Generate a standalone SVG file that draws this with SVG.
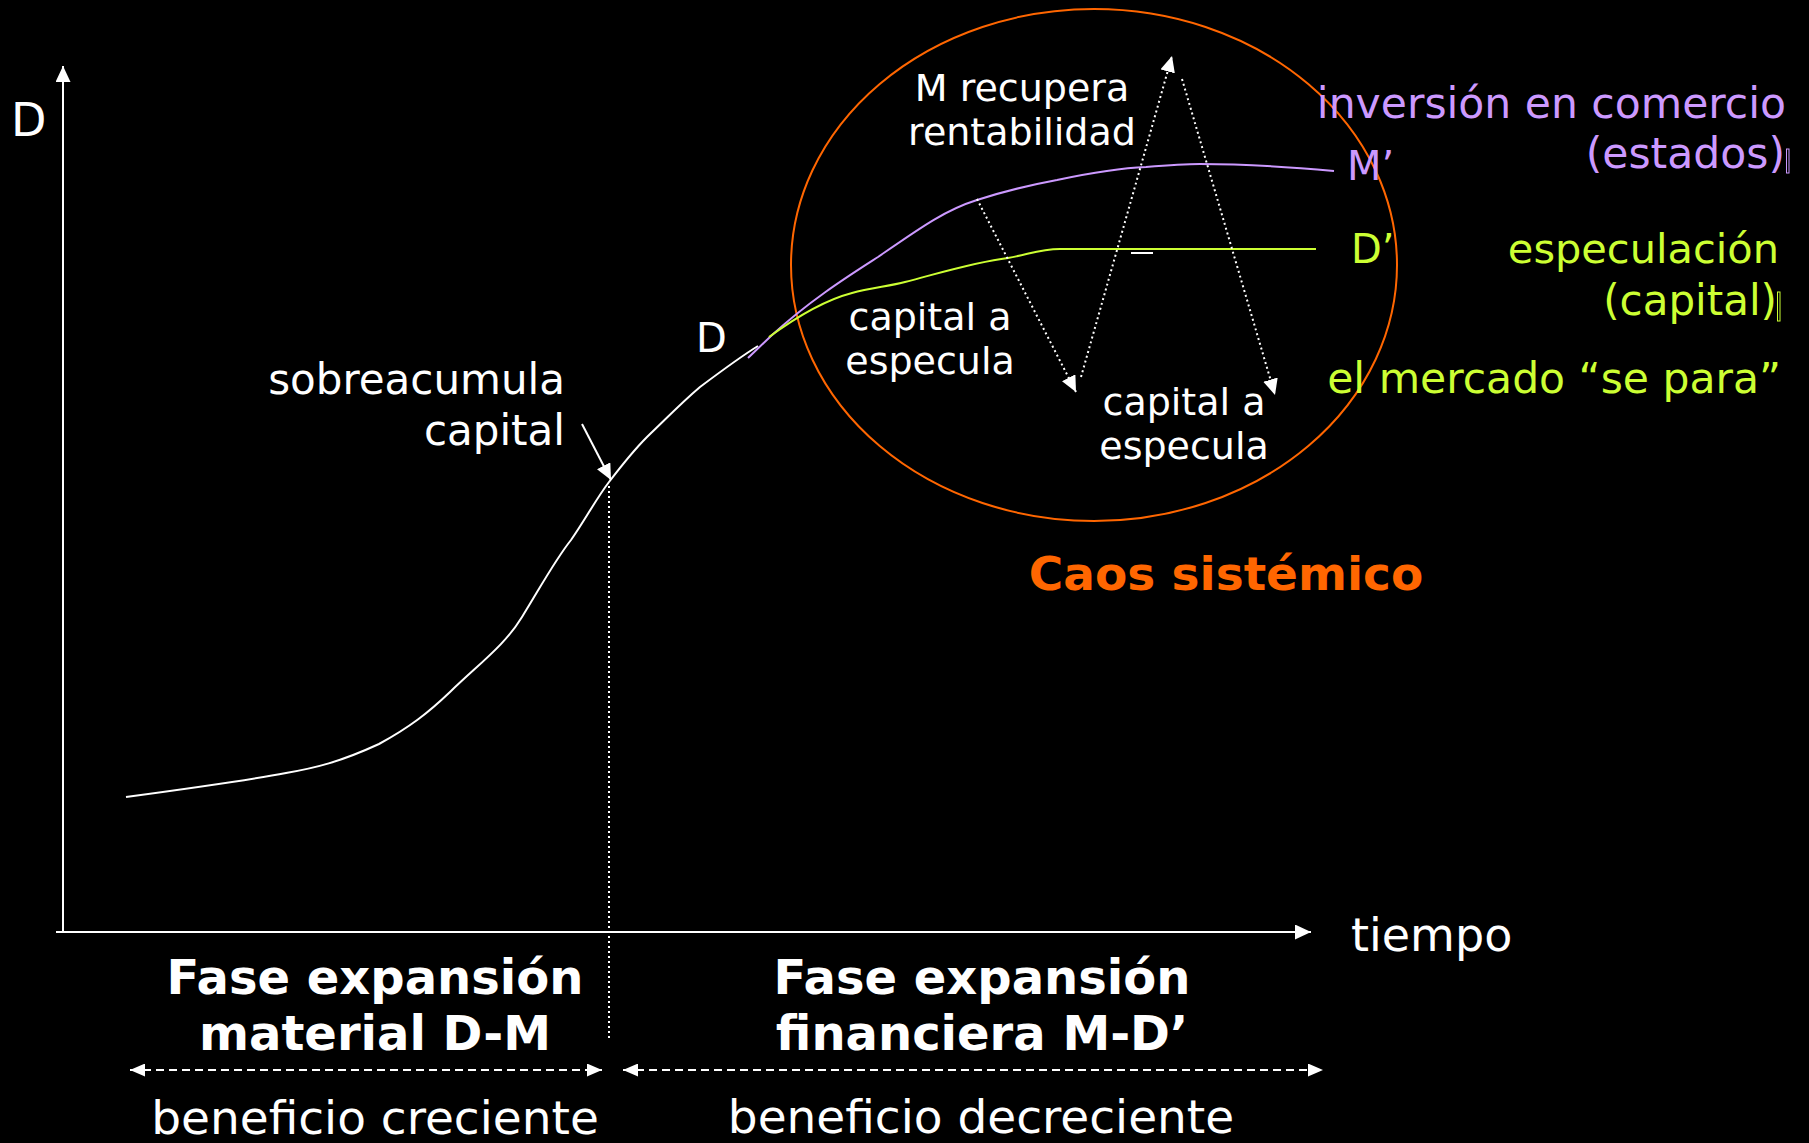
<svg xmlns="http://www.w3.org/2000/svg" width="1809" height="1143" viewBox="0 0 1809 1143">
<style>
text{font-family:"DejaVu Sans","Liberation Sans",sans-serif;}
.w{fill:#ffffff;}
.p{fill:#CC99FF;}
.g{fill:#CCFF33;}
.o{fill:#FF6600;}
.b{font-weight:bold;}
.ln{fill:none;stroke:#ffffff;stroke-width:2;}
.dot{fill:none;stroke:#ffffff;stroke-width:2;stroke-dasharray:2 3;}
.dash{fill:none;stroke:#ffffff;stroke-width:2;stroke-dasharray:8 5;}
</style>
<defs>
<marker id="ah" viewBox="0 0 16 15" refX="16" refY="7.5" markerWidth="16" markerHeight="15" markerUnits="userSpaceOnUse" orient="auto-start-reverse">
<path d="M0,0 L16,7.5 L0,15 z" fill="#ffffff"/>
</marker>
<marker id="ahs" viewBox="0 0 15 13" refX="15" refY="6.5" markerWidth="15" markerHeight="13" markerUnits="userSpaceOnUse" orient="auto-start-reverse">
<path d="M0,0 L15,6.5 L0,13 z" fill="#ffffff"/>
</marker>
</defs>
<rect x="0" y="0" width="1809" height="1143" fill="#000000"/>

<g id="circle">
<ellipse cx="1094" cy="265" rx="303" ry="256" fill="none" stroke="#FF6600" stroke-width="2"/>
</g>

<g id="curves">
<path id="curve-main" class="ln" d="M126,797 C200,787 255,779 286,773 C315,768 340,762 379,744 C410,727 428,713 450,692 C480,663 505,645 522,617 C540,588 555,560 571,540 C585,520 596,499 609,482 C622,465 632,452 647,437 C665,420 680,404 700,387 C720,372 740,357 758,346"/>
<path id="curve-M" fill="none" stroke="#CC99FF" stroke-width="2" d="M748,358 L771,336 C810,300 850,275 878,257 C920,228 945,210 977,200 C1005,191 1030,185 1057,180 C1090,173 1120,168 1146,167 C1170,165 1185,164 1200,164 C1250,164 1300,168 1334,171"/>
<path id="curve-D" fill="none" stroke="#CCFF33" stroke-width="2" d="M769,337 C795,318 825,300 852,293 C870,288 890,286 905,282 C940,273 975,262 1008,258 C1030,254 1040,249 1060,249 L1316,249"/>
<line x1="1131" y1="253" x2="1153" y2="253" stroke="#ffffff" stroke-width="2"/>
</g>

<g id="connectors">
<line id="axis-y" class="ln" x1="63" y1="933" x2="63" y2="66" marker-end="url(#ah)"/>
<line id="axis-x" class="ln" x1="56" y1="932" x2="1311" y2="932" marker-end="url(#ah)"/>
<line id="sobre-arrow" class="ln" x1="582" y1="424" x2="611" y2="480" marker-end="url(#ah)"/>
<line id="phase-divider" class="dot" x1="609" y1="486" x2="609" y2="1039"/>
<line id="arrow-down1" class="dot" x1="977" y1="199" x2="1076" y2="392" marker-end="url(#ah)"/>
<line id="arrow-up" class="dot" x1="1081" y1="377" x2="1172" y2="56" marker-end="url(#ah)"/>
<line id="arrow-down2" class="dot" x1="1182" y1="79" x2="1275" y2="395" marker-end="url(#ah)"/>
<line id="range-left" class="dash" x1="130" y1="1070" x2="602" y2="1070" marker-start="url(#ahs)" marker-end="url(#ahs)"/>
<line id="range-right" class="dash" x1="623" y1="1070" x2="1323" y2="1070" marker-start="url(#ahs)" marker-end="url(#ahs)"/>
</g>

<g id="label-axis-D"><text class="w" x="11" y="136" font-size="46">D</text></g>
<g id="label-tiempo"><text class="w" x="1351" y="951" font-size="46">tiempo</text></g>
<g id="label-sobreacumula">
<text class="w" x="565" y="394" font-size="42" text-anchor="end">sobreacumula</text>
<text class="w" x="565" y="445" font-size="42" text-anchor="end">capital</text>
</g>
<g id="label-D"><text class="w" x="696" y="352" font-size="40">D</text></g>
<g id="label-recupera">
<text class="w" x="1022" y="101" font-size="38" text-anchor="middle">M recupera</text>
<text class="w" x="1022" y="145" font-size="38" text-anchor="middle">rentabilidad</text>
</g>
<g id="label-capital1">
<text class="w" x="930" y="330" font-size="38" text-anchor="middle">capital a</text>
<text class="w" x="930" y="374" font-size="38" text-anchor="middle">especula</text>
</g>
<g id="label-capital2">
<text class="w" x="1184" y="415" font-size="38" text-anchor="middle">capital a</text>
<text class="w" x="1184" y="459" font-size="38" text-anchor="middle">especula</text>
</g>
<g id="label-Mprime"><text class="p" x="1347" y="180" font-size="40">M’</text></g>
<g id="label-Dprime"><text class="g" x="1351" y="263" font-size="40">D’</text></g>
<g id="label-inversion">
<text class="p" x="1786" y="118" font-size="42.5" text-anchor="end">inversión en comercio</text>
<text class="p" x="1785" y="168" font-size="42.5" text-anchor="end">(estados)</text>
<rect x="1786.5" y="149" width="2.5" height="24" fill="none" stroke="#CC99FF" stroke-width="1"/>
</g>
<g id="label-especulacion">
<text class="g" x="1779" y="263" font-size="41.5" text-anchor="end">especulación</text>
<text class="g" x="1777" y="315" font-size="42" text-anchor="end">(capital)</text>
<rect x="1777.5" y="292" width="2.5" height="29" fill="none" stroke="#CCFF33" stroke-width="1"/>
</g>
<g id="label-mercado"><text class="g" x="1781" y="393" font-size="42.5" text-anchor="end">el mercado “se para”</text></g>
<g id="label-caos"><text class="o b" x="1226" y="590" font-size="47" text-anchor="middle">Caos sistémico</text></g>
<g id="label-fase1">
<text class="w b" x="375" y="994" font-size="48" text-anchor="middle">Fase expansión</text>
<text class="w b" x="375" y="1050" font-size="48" text-anchor="middle">material D-M</text>
</g>
<g id="label-fase2">
<text class="w b" x="982" y="994" font-size="48" text-anchor="middle">Fase expansión</text>
<text class="w b" x="982" y="1050" font-size="48" text-anchor="middle">financiera M-D’</text>
</g>
<g id="label-beneficio1"><text class="w" x="375" y="1134" font-size="47" text-anchor="middle">beneficio creciente</text></g>
<g id="label-beneficio2"><text class="w" x="981" y="1133" font-size="47" text-anchor="middle">beneficio decreciente</text></g>
</svg>
